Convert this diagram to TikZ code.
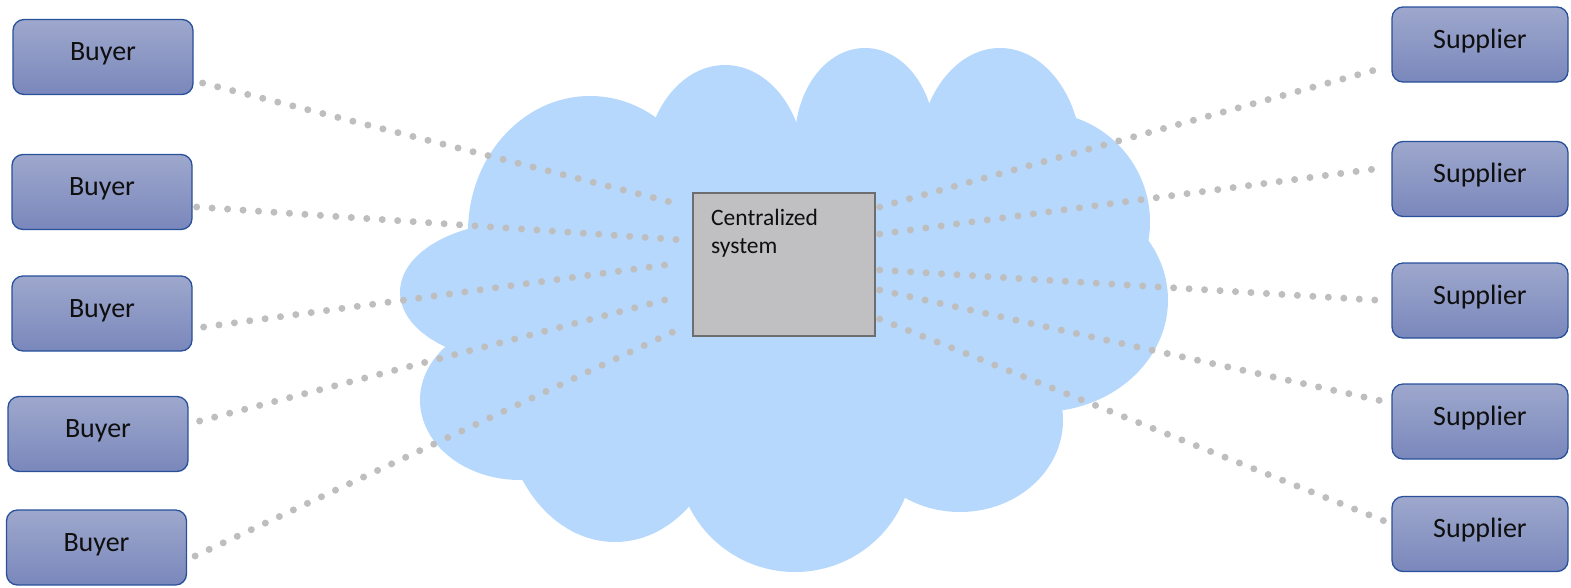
\documentclass[tikz,border=0pt]{standalone}
\usepackage{fontspec}
\setmainfont{Carlito}
\definecolor{boxtop}{RGB}{158,168,205}
\definecolor{boxbot}{RGB}{122,135,187}
\definecolor{boxborder}{RGB}{40,80,155}
\definecolor{cloudcol}{RGB}{183,216,253}
\definecolor{dotcol}{RGB}{190,190,190}
\definecolor{cfill}{RGB}{192,192,194}
\definecolor{cborder}{RGB}{110,110,110}
\definecolor{textcol}{RGB}{15,15,15}
\begin{document}
\begin{tikzpicture}[x=1pt,y=-1pt,
  party/.style={draw=boxborder, line width=1.3pt, rounded corners=11pt,
    top color=boxtop, bottom color=boxbot, minimum width=180pt, minimum height=75pt,
    inner sep=0pt, font=\fontsize{28}{34}\selectfont, text=textcol,
    text height=18pt, text depth=11pt},
  link/.style={draw=dotcol, line width=7pt, line cap=round, dash pattern=on 0pt off 15.5pt},
  central/.style={draw=cborder, fill=cfill, line width=1.3pt, minimum width=182pt,
    minimum height=143pt, inner sep=0pt},
  lobe/.style={fill=cloudcol}
  ]
\useasboundingbox (0,0) rectangle (1571,587);
% cloud
\fill[lobe] (590,232) ellipse [x radius=122pt, y radius=136pt];
\fill[lobe] (725,170) ellipse [x radius=80pt, y radius=105pt];
\fill[lobe] (865,140) ellipse [x radius=70pt, y radius=92pt];
\fill[lobe] (1000,160) ellipse [x radius=82pt, y radius=112pt];
\fill[lobe] (1040,222) ellipse [x radius=110pt, y radius=110pt];
\fill[lobe] (1040,300) ellipse [x radius=128pt, y radius=112pt];
\fill[lobe] (960,420) ellipse [x radius=103pt, y radius=92pt];
\fill[lobe] (795,455) ellipse [x radius=118pt, y radius=117pt];
\fill[lobe] (615,400) ellipse [x radius=112pt, y radius=142pt];
\fill[lobe] (520,400) ellipse [x radius=100pt, y radius=80pt];
\fill[lobe] (520,292) ellipse [x radius=120pt, y radius=70pt];
\fill[lobe] (540,160) rectangle (1020,445);
% nodes
\node[party] (b1) at (103,57) {Buyer};
\node[party] (b2) at (102,192) {Buyer};
\node[party] (b3) at (102,313.5) {Buyer};
\node[party] (b4) at (98,434) {Buyer};
\node[party] (b5) at (96.5,547.5) {Buyer};
\node[party, minimum width=176pt] (s1) at (1480,44.5) {Supplier};
\node[party, minimum width=176pt] (s2) at (1480,179) {Supplier};
\node[party, minimum width=176pt] (s3) at (1480,300.5) {Supplier};
\node[party, minimum width=176pt] (s4) at (1480,421.5) {Supplier};
\node[party, minimum width=176pt] (s5) at (1480,534) {Supplier};
\node[central] (c) at (784,264.5) {};
% links
\draw[link] ([shift={(9,26)}]b1.east) -- ([shift={(-10,-59.5)}]c.west);
\draw[link] ([shift={(4,15)}]b2.east) -- ([shift={(-8,-24.5)}]c.west);
\draw[link] ([shift={(11,13.5)}]b3.east) -- ([shift={(-20,-0.5)}]c.west);
\draw[link] ([shift={(11,-13)}]b4.east) -- ([shift={(-20,33.5)}]c.west);
\draw[link] ([shift={(8,8.5)}]b5.east) -- ([shift={(-11,63.5)}]c.west);
\draw[link] ([shift={(4,-57.5)}]c.east) -- ([shift={(-9,23.5)}]s1.west);
\draw[link] ([shift={(4,-30.5)}]c.east) -- ([shift={(-9,-11)}]s2.west);
\draw[link] ([shift={(4,5.5)}]c.east) -- ([shift={(-9,0)}]s3.west);
\draw[link] ([shift={(4,25.5)}]c.east) -- ([shift={(-7,-20)}]s4.west);
\draw[link] ([shift={(4,54.5)}]c.east) -- ([shift={(-7,-13)}]s5.west);
\node[anchor=base west, inner sep=0pt, align=left, text=textcol,
  font=\fontsize{23.5}{28}\selectfont] (ct) at (711,253) {Centralized\\system};
\end{tikzpicture}
\end{document}
